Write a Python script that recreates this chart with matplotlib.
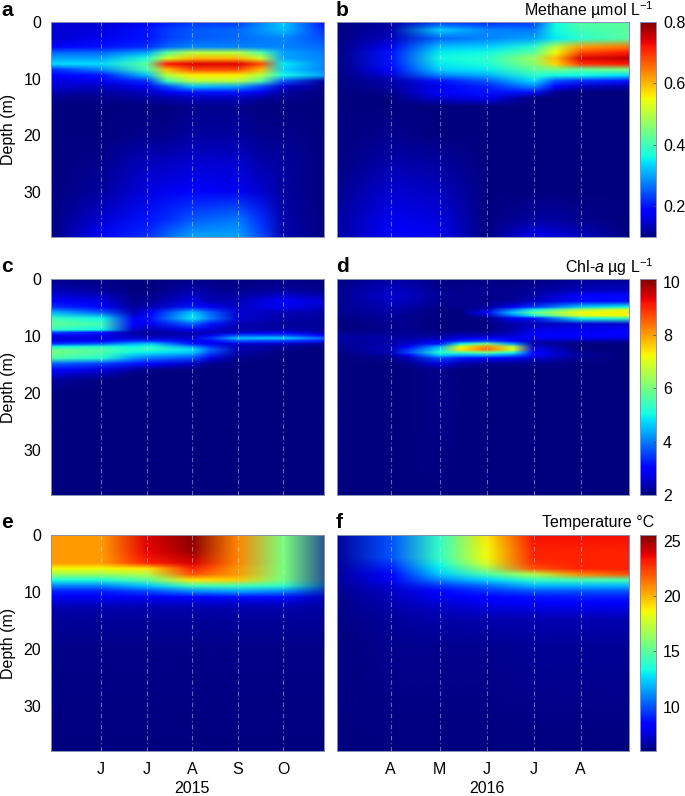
import matplotlib
matplotlib.use('Agg')
import matplotlib.pyplot as plt
from matplotlib.image import NonUniformImage
import numpy as np

plt.rcParams['font.family'] = ['Liberation Sans', 'DejaVu Sans']
plt.rcParams['mathtext.fontset'] = 'custom'
plt.rcParams['mathtext.rm'] = 'Liberation Sans'
plt.rcParams['mathtext.it'] = 'Liberation Sans:italic'
plt.rcParams['axes.unicode_minus'] = True

months_2015 = ['J', 'J', 'A', 'S', 'O']
months_2016 = ['A', 'M', 'J', 'J', 'A']
ticks_2015 = [1.1, 2.1, 3.1, 4.1, 5.1]
ticks_2016 = [1.13, 2.16, 3.15, 4.14, 5.13]
depth_ticks = [0, 10, 20, 30]

# methane 2015
a_time = [0, 1.1, 2.1, 2.55, 3.1, 4.1, 4.6, 5.1, 6]
a_depth = [0, 1.5, 3, 4.5, 5.5, 6.5, 7.5, 8.5, 9.5, 10.5, 11.5, 12.5, 13.5, 15, 20, 25, 30, 35, 38]
a_vals = [
    [.15, .15, .17, .20, .22, .22, .28, .33, .18],
    [.15, .16, .20, .23, .25, .26, .29, .32, .22],
    [.15, .17, .20, .23, .25, .26, .27, .28, .24],
    [.18, .20, .22, .26, .28, .28, .28, .28, .26],
    [.26, .26, .30, .42, .50, .50, .42, .30, .27],
    [.30, .30, .37, .52, .60, .60, .52, .30, .28],
    [.34, .34, .42, .72, .74, .74, .68, .35, .28],
    [.22, .28, .40, .60, .68, .68, .60, .33, .28],
    [.18, .20, .32, .50, .56, .56, .50, .36, .30],
    [.16, .17, .22, .40, .50, .50, .42, .25, .12],
    [.15, .14, .17, .24, .32, .30, .24, .15, .11],
    [.13, .12, .14, .17, .20, .20, .17, .12, .10],
    [.11, .11, .12, .13, .14, .14, .12, .11, .10],
    [.10, .10, .10, .10, .11, .11, .10, .10, .10],
    [.10, .10, .11, .11, .12, .12, .11, .11, .10],
    [.10, .11, .14, .14, .15, .15, .13, .12, .10],
    [.10, .12, .16, .17, .18, .17, .15, .12, .10],
    [.10, .15, .20, .22, .25, .27, .22, .13, .10],
    [.10, .18, .22, .26, .30, .30, .24, .13, .10],
]

# methane 2016
b_time = [0, 1.13, 2.16, 3.15, 4.14, 4.6, 5.13, 6.15]
b_depth = [0, 1.5, 3, 4.5, 5.5, 6.5, 7.5, 8.5, 9.5, 10.5, 11.5, 12.5, 13.5, 15, 20, 25, 30, 35, 38]
b_vals = [
    [.10, .12, .20, .20, .22, .36, .42, .42],
    [.10, .13, .33, .28, .27, .36, .40, .42],
    [.10, .14, .26, .28, .30, .35, .38, .42],
    [.10, .17, .32, .33, .38, .50, .62, .65],
    [.10, .20, .35, .36, .42, .55, .68, .72],
    [.10, .20, .36, .38, .48, .60, .74, .76],
    [.10, .20, .35, .37, .46, .58, .70, .72],
    [.10, .18, .33, .35, .42, .44, .42, .45],
    [.10, .15, .28, .31, .38, .36, .36, .34],
    [.10, .13, .20, .25, .34, .24, .22, .20],
    [.10, .12, .17, .21, .28, .18, .14, .13],
    [.10, .11, .18, .20, .20, .11, .10, .10],
    [.10, .10, .15, .17, .10, .10, .10, .10],
    [.10, .10, .10, .10, .10, .10, .10, .10],
    [.10, .11, .10, .10, .10, .10, .10, .10],
    [.10, .13, .12, .10, .10, .10, .10, .10],
    [.11, .15, .14, .10, .10, .10, .10, .10],
    [.12, .17, .16, .10, .12, .12, .11, .10],
    [.12, .18, .17, .10, .17, .16, .14, .10],
]

# chl-a 2015
c_time = [0, 1.1, 1.8, 2.2, 3.1, 3.5, 4.1, 5.1, 6]
c_depth = [0, 2, 4, 5, 6, 7, 8, 9, 9.5, 10, 10.5, 11, 11.5, 12, 12.5, 13, 14, 15, 16, 17, 18, 20, 38]
c_vals = [
    [2.0, 2.0, 2.0, 2.0, 2.0, 2.0, 2.0, 2.0, 2.0],
    [2.4, 2.2, 2.0, 2.0, 2.3, 2.2, 2.1, 2.2, 2.1],
    [3.0, 2.7, 2.1, 2.2, 2.7, 2.4, 2.4, 3.0, 2.6],
    [3.4, 3.0, 2.2, 2.4, 3.2, 2.8, 2.5, 2.8, 2.5],
    [4.5, 3.8, 2.4, 3.0, 4.6, 3.8, 2.6, 2.4, 2.3],
    [5.4, 5.0, 2.8, 3.2, 4.9, 4.0, 2.6, 2.3, 2.2],
    [5.8, 5.5, 3.0, 2.8, 3.8, 3.2, 2.4, 2.2, 2.2],
    [5.3, 5.0, 2.6, 2.4, 2.8, 2.6, 2.3, 2.3, 2.2],
    [3.6, 3.2, 2.3, 2.2, 2.4, 2.4, 2.6, 2.8, 2.4],
    [2.9, 2.8, 2.4, 2.3, 2.4, 2.8, 3.6, 3.6, 3.0],
    [2.6, 2.7, 2.6, 2.6, 2.6, 3.4, 4.6, 4.7, 3.8],
    [2.8, 3.0, 3.4, 3.4, 2.8, 3.0, 3.6, 3.4, 3.2],
    [3.4, 3.8, 4.4, 4.6, 3.2, 2.8, 2.6, 2.5, 2.2],
    [5.0, 5.2, 5.0, 5.2, 4.2, 3.4, 2.4, 2.2, 2.0],
    [5.8, 5.6, 5.2, 5.3, 4.8, 3.8, 2.4, 2.1, 2.0],
    [6.0, 5.6, 5.0, 4.9, 4.6, 3.6, 2.3, 2.0, 2.0],
    [5.6, 5.2, 4.2, 3.9, 3.6, 2.7, 2.1, 2.0, 2.0],
    [3.8, 3.5, 3.2, 3.0, 2.5, 2.1, 2.0, 2.0, 2.0],
    [3.1, 2.7, 2.3, 2.1, 2.0, 2.0, 2.0, 2.0, 2.0],
    [2.6, 2.3, 2.0, 2.0, 2.0, 2.0, 2.0, 2.0, 2.0],
    [2.2, 2.0, 2.0, 2.0, 2.0, 2.0, 2.0, 2.0, 2.0],
    [2.0, 2.0, 2.0, 2.0, 2.0, 2.0, 2.0, 2.0, 2.0],
    [2.0, 2.0, 2.0, 2.0, 2.0, 2.0, 2.0, 2.0, 2.0],
]

# chl-a 2016
d_time = [0, 1.13, 1.5, 2.16, 2.6, 3.15, 3.7, 4.14, 5.13, 6.15]
d_depth = [0, 2, 3, 4, 5, 5.5, 6, 6.5, 7, 8, 9, 10, 10.5, 11, 11.5, 12, 12.5, 13, 13.5, 14, 15, 16, 38]
d_vals = [
    [2.0, 2.2, 2.2, 2.0, 2.0, 2.0, 2.0, 2.0, 2.1, 2.1],
    [2.1, 2.5, 2.4, 2.1, 2.1, 2.1, 2.1, 2.2, 2.4, 2.5],
    [2.1, 2.6, 2.5, 2.2, 2.1, 2.1, 2.1, 2.3, 3.0, 3.1],
    [2.1, 2.5, 2.4, 2.1, 2.1, 2.1, 2.2, 2.5, 3.1, 3.1],
    [2.1, 2.4, 2.3, 2.1, 2.1, 2.2, 2.8, 3.4, 4.6, 5.0],
    [2.1, 2.3, 2.2, 2.0, 2.0, 2.5, 4.0, 5.0, 6.5, 7.0],
    [2.1, 2.3, 2.2, 2.0, 2.0, 3.0, 4.6, 5.8, 7.2, 7.3],
    [2.1, 2.2, 2.1, 2.0, 2.0, 2.5, 4.0, 5.0, 7.0, 7.2],
    [2.0, 2.2, 2.1, 2.0, 2.0, 2.1, 2.8, 3.2, 5.0, 5.4],
    [2.0, 2.1, 2.1, 2.0, 2.0, 2.0, 2.3, 2.4, 2.6, 2.6],
    [2.0, 2.1, 2.1, 2.0, 2.0, 2.0, 2.3, 2.7, 2.8, 2.9],
    [2.2, 2.2, 2.2, 2.2, 2.4, 2.4, 2.6, 2.9, 3.0, 3.0],
    [2.3, 2.3, 2.3, 2.4, 2.7, 3.0, 2.8, 2.8, 2.8, 2.7],
    [2.2, 2.3, 2.4, 2.8, 3.3, 3.6, 3.0, 2.4, 2.3, 2.2],
    [2.2, 2.3, 2.6, 3.2, 5.0, 6.0, 4.2, 2.3, 2.0, 2.0],
    [2.1, 2.4, 3.0, 4.4, 7.0, 8.2, 6.6, 2.6, 2.0, 2.0],
    [2.1, 2.4, 3.4, 4.8, 7.4, 8.4, 7.0, 2.8, 2.0, 2.0],
    [2.0, 2.4, 3.6, 5.2, 5.6, 6.0, 5.2, 3.0, 2.1, 2.0],
    [2.0, 2.2, 3.0, 4.6, 4.4, 4.4, 4.0, 2.9, 2.2, 2.0],
    [2.0, 2.1, 2.4, 3.6, 3.2, 3.0, 2.8, 2.6, 2.1, 2.0],
    [2.0, 2.0, 2.1, 2.7, 2.3, 2.1, 2.1, 2.1, 2.0, 2.0],
    [2.0, 2.0, 2.0, 2.1, 2.0, 2.0, 2.0, 2.0, 2.0, 2.0],
    [2.0, 2.0, 2.0, 2.0, 2.0, 2.0, 2.0, 2.0, 2.0, 2.0],
]

# temperature 2015, the last column sits just past the right edge of the axes
e_time = [0, 1.1, 2.1, 3.1, 4.1, 5.1, 6.45]
e_depth = [0, 3, 5, 6, 7, 8, 9, 10, 11, 12, 13, 15, 20, 38]
e_vals = [
    [20.5, 20.5, 24.0, 25.4, 21.0, 15.7, 6.5],
    [20.5, 20.5, 23.6, 25.0, 21.0, 15.7, 6.5],
    [20.5, 20.5, 23.0, 24.0, 21.0, 15.7, 6.5],
    [18.5, 18.5, 19.0, 23.0, 20.6, 15.7, 6.5],
    [16.5, 16.5, 17.0, 22.0, 20.5, 15.7, 6.5],
    [13.5, 13.5, 15.0, 19.0, 19.5, 15.5, 6.5],
    [11.0, 11.0, 12.3, 14.5, 14.5, 14.0, 6.5],
    [9.0, 9.0, 9.8, 11.0, 11.5, 11.0, 6.5],
    [8.0, 8.0, 8.0, 8.5, 8.7, 8.7, 6.5],
    [7.3, 7.3, 7.3, 7.4, 7.4, 7.4, 6.5],
    [6.8, 6.8, 6.8, 6.8, 6.8, 6.8, 6.5],
    [6.5, 6.5, 6.5, 6.5, 6.5, 6.5, 6.5],
    [6.2, 6.2, 6.2, 6.2, 6.2, 6.2, 6.2],
    [6.0, 6.0, 6.0, 6.0, 6.0, 6.0, 6.0],
]

# temperature 2016
f_time = [0, 1.13, 2.16, 3.15, 4.14, 5.13, 6.15]
f_depth = [0, 3, 4, 5, 6, 7, 8, 9, 10, 11, 12, 13, 15, 20, 38]
f_vals = [
    [6.5, 10.0, 14.0, 19.0, 23.5, 23.5, 23.5],
    [6.5, 10.0, 14.0, 18.5, 23.0, 23.0, 23.0],
    [6.5, 10.0, 14.0, 18.5, 23.0, 23.0, 23.0],
    [6.5, 9.5, 13.5, 18.0, 22.8, 23.0, 23.0],
    [6.5, 9.0, 13.0, 16.5, 22.0, 23.0, 23.0],
    [6.5, 8.5, 12.3, 14.5, 17.0, 21.0, 22.0],
    [6.5, 8.0, 11.0, 12.5, 14.0, 14.5, 14.5],
    [6.4, 7.5, 9.5, 10.5, 12.0, 12.0, 12.0],
    [6.3, 7.2, 8.5, 9.3, 10.0, 10.0, 10.0],
    [6.2, 7.0, 8.0, 8.5, 8.8, 9.0, 9.0],
    [6.2, 6.9, 7.5, 8.0, 8.2, 8.3, 8.3],
    [6.2, 6.7, 7.2, 7.5, 7.6, 7.7, 7.7],
    [6.1, 6.5, 6.7, 6.8, 6.9, 6.9, 6.9],
    [6.0, 6.3, 6.3, 6.3, 6.4, 6.4, 6.4],
    [6.0, 6.0, 6.0, 6.0, 6.0, 6.0, 6.0],
]

W, H = 685, 796
SPINE = '#8a8fb5'
LINE = '#cdd8f5'


def px_axes(fig, left, top, right, bottom):
    return fig.add_axes([left / W, 1 - bottom / H, (right - left) / W, (bottom - top) / H])


def draw_panel(fig, box, t, depth, vals, vmin, vmax, ticks, xmax, letter):
    ax = px_axes(fig, *box)
    # first grid lines nudged out so the edge pixel row stays inside the grid
    t = np.array(t, dtype=float)
    depth = np.array(depth, dtype=float)
    t[0] -= 0.02
    depth[0] -= 0.2
    # bilinear between the colours of the grid nodes, like shading interp
    im = NonUniformImage(ax, interpolation='bilinear', cmap='jet', norm=plt.Normalize(vmin, vmax))
    im.set_data(t, depth, np.array(vals))
    ax.add_image(im)
    im.set_clip_path(ax.patch)
    ax.set_xlim(0, xmax)
    ax.set_ylim(38, 0)
    for x in ticks:
        ax.axvline(x, color=LINE, lw=0.8, ls=(0, (4, 2.5, 1, 2.5)), alpha=0.5)
    ax.set_xticks(ticks)
    ax.set_xticklabels([])
    ax.set_yticks(depth_ticks)
    ax.set_yticklabels([])
    ax.tick_params(length=0)
    for s in ax.spines.values():
        s.set_color(SPINE)
        s.set_linewidth(0.7)
    fig.text((box[0] - (50 if box[0] < 100 else 1)) / W, 1 - (box[1] - 12) / H, letter,
             fontsize=15, fontweight='bold', va='center', ha='left')
    return ax, im


def add_bar(fig, mesh, top, bottom, ticks, labels, title):
    cax = px_axes(fig, 640, top, 656, bottom)
    cb = fig.colorbar(mesh, cax=cax)
    cb.set_ticks(ticks)
    cb.set_ticklabels(labels)
    cb.ax.tick_params(labelsize=11.5, length=2, width=0.5, direction='in', pad=5, color='#444444')
    cb.outline.set_edgecolor(SPINE)
    cb.outline.set_linewidth(0.7)
    fig.text(654 / W, 1 - (top - 12) / H, title, fontsize=11.5, ha='right', va='center')


fig = plt.figure(figsize=(W / 100, H / 100), dpi=100)

rows = [(22, 237), (279, 495), (535, 751)]
left_x = (51, 324)
right_x = (337, 629)

ax_a, m_a = draw_panel(fig, (left_x[0], rows[0][0], left_x[1], rows[0][1]), a_time, a_depth, a_vals, 0.1, 0.8, ticks_2015, 6, 'a')
ax_b, m_b = draw_panel(fig, (right_x[0], rows[0][0], right_x[1], rows[0][1]), b_time, b_depth, b_vals, 0.1, 0.8, ticks_2016, 6.15, 'b')
ax_c, m_c = draw_panel(fig, (left_x[0], rows[1][0], left_x[1], rows[1][1]), c_time, c_depth, c_vals, 2, 10.1, ticks_2015, 6, 'c')
ax_d, m_d = draw_panel(fig, (right_x[0], rows[1][0], right_x[1], rows[1][1]), d_time, d_depth, d_vals, 2, 10.1, ticks_2016, 6.15, 'd')
ax_e, m_e = draw_panel(fig, (left_x[0], rows[2][0], left_x[1], rows[2][1]), e_time, e_depth, e_vals, 6, 25.5, ticks_2015, 6, 'e')
ax_f, m_f = draw_panel(fig, (right_x[0], rows[2][0], right_x[1], rows[2][1]), f_time, f_depth, f_vals, 6, 25.5, ticks_2016, 6.15, 'f')

for ax in [ax_a, ax_c, ax_e]:
    ax.set_yticklabels([str(v) for v in depth_ticks], fontsize=11.5)
    ax.tick_params(axis='y', pad=7)
    ax.set_ylabel('Depth (m)', fontsize=11.5)
    ax.yaxis.set_label_coords(-35 / 273, 0.5)

ax_e.set_xticklabels(months_2015, fontsize=11.5)
ax_f.set_xticklabels(months_2016, fontsize=11.5)
ax_e.tick_params(axis='x', pad=8)
ax_f.tick_params(axis='x', pad=8)
ax_e.set_xlabel('2015', fontsize=11.5)
ax_f.set_xlabel('2016', fontsize=11.5)
ax_e.xaxis.set_label_coords(3.1 / 6, -30 / 216)
ax_f.xaxis.set_label_coords(3.15 / 6.15, -30 / 216)

add_bar(fig, m_a, rows[0][0], rows[0][1], [0.2, 0.4, 0.6, 0.8], ['0.2', '0.4', '0.6', '0.8'], 'Methane µmol L$^{-1}$')
add_bar(fig, m_c, rows[1][0], rows[1][1], [2, 4, 6, 8, 10], ['2', '4', '6', '8', '10'], r'Chl-$\mathit{a}$ µg L$^{-1}$')
add_bar(fig, m_e, rows[2][0], rows[2][1], [10, 15, 20, 25], ['10', '15', '20', '25'], 'Temperature °C')

fig.savefig('out.png', dpi=100)
